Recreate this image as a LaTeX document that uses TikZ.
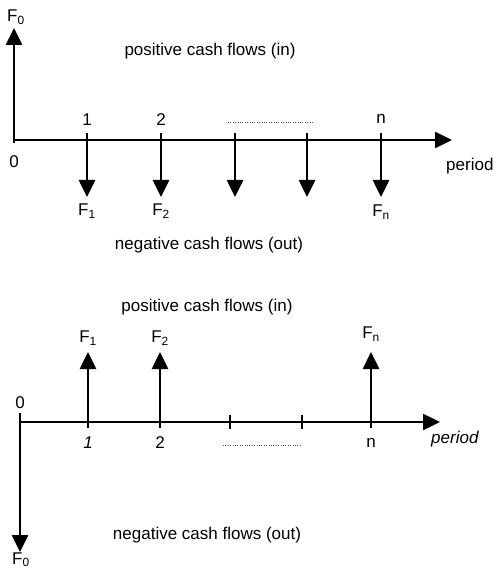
\documentclass[tikz,border=0pt]{standalone}
\usepackage{fontspec}
\setmainfont{Liberation Sans}
\usetikzlibrary{arrows.meta}

\begin{document}
\begin{tikzpicture}[
  x=1pt,y=-1pt,
  flow/.style={-{Triangle[length=17pt,width=16pt]},line width=2.6pt,color=black},
  axisline/.style={-{Triangle[length=17pt,width=16pt]},line width=2.4pt,color=black},
  tickmark/.style={line width=2pt},
  gap/.style={dash pattern=on 1pt off 1.4pt,line width=1pt,color=black!70},
  lbl/.style={font=\fontsize{17}{19}\selectfont,inner sep=1pt},
  caption/.style={font=\fontsize{17}{19}\selectfont,inner sep=1pt}
]
\useasboundingbox (0,0) rectangle (496,569);
% upper time line
\coordinate (o1) at (14,143);
\coordinate (e1) at (452,140);
\coordinate (up0) at (14,28);
\coordinate (s1) at (14,140);
\foreach \i/\x in {1/87,2/161,3/235,4/307,5/381}{
  \coordinate (a\i) at (\x,133);
  \coordinate (b\i) at (\x,197);
}
\coordinate (g1) at (228,123);
\coordinate (g2) at (313,123);
\draw[axisline] (s1) -- (e1);
\draw[flow] (o1) -- (up0);
\foreach \i in {1,...,5}
  \draw[flow] (a\i) -- (b\i);
\draw[gap] (g1) -- (g2);
\node[lbl] (f0up) at (16,17) {F\textsubscript{0}};
\node[caption] (posup) at (210,51) {positive cash flows (in)};
\node[lbl] (n1up) at (87,120) {1};
\node[lbl] (n2up) at (161,120) {2};
\node[lbl] (nnup) at (381,119) {n};
\node[lbl] (zeroup) at (14,162) {0};
\node[lbl,anchor=west] (perup) at (445,166) {period};
\node[lbl] (f1up) at (87,211) {F\textsubscript{1}};
\node[lbl] (f2up) at (161,211) {F\textsubscript{2}};
\node[lbl] (fnup) at (381,212) {F\textsubscript{n}};
\node[caption] (negup) at (209,245) {negative cash flows (out)};
% lower time line
\coordinate (s2) at (20,422);
\coordinate (e2) at (440,422);
\coordinate (o2) at (20,413);
\coordinate (dn0) at (20,552);
\foreach \i/\x in {1/88,2/160,5/371}{
  \coordinate (c\i) at (\x,428);
  \coordinate (d\i) at (\x,352);
}
\foreach \i/\x in {3/230,4/302}{
  \coordinate (m\i) at (\x,415);
  \coordinate (k\i) at (\x,429);
}
\coordinate (g3) at (223,445);
\coordinate (g4) at (302,445);
\draw[axisline] (s2) -- (e2);
\draw[flow] (o2) -- (dn0);
\foreach \i in {1,2,5}
  \draw[flow] (c\i) -- (d\i);
\foreach \i in {3,4}
  \draw[tickmark] (m\i) -- (k\i);
\draw[gap] (g3) -- (g4);
\node[caption] (poslow) at (207,307) {positive cash flows (in)};
\node[lbl] (f1low) at (88,338) {F\textsubscript{1}};
\node[lbl] (f2low) at (160,338) {F\textsubscript{2}};
\node[lbl] (fnlow) at (371,334) {F\textsubscript{n}};
\node[lbl] (zerolow) at (20,403) {0};
\node[lbl] (n1low) at (88,443) {\itshape 1};
\node[lbl] (n2low) at (160,443) {2};
\node[lbl] (nnlow) at (371,443) {n};
\node[lbl,anchor=west] (perlow) at (430,439) {\itshape period};
\node[caption] (neglow) at (207,535) {negative cash flows (out)};
\node[lbl,anchor=south] (f0low) at (21,568) {F\textsubscript{0}};
\end{tikzpicture}
\end{document}
